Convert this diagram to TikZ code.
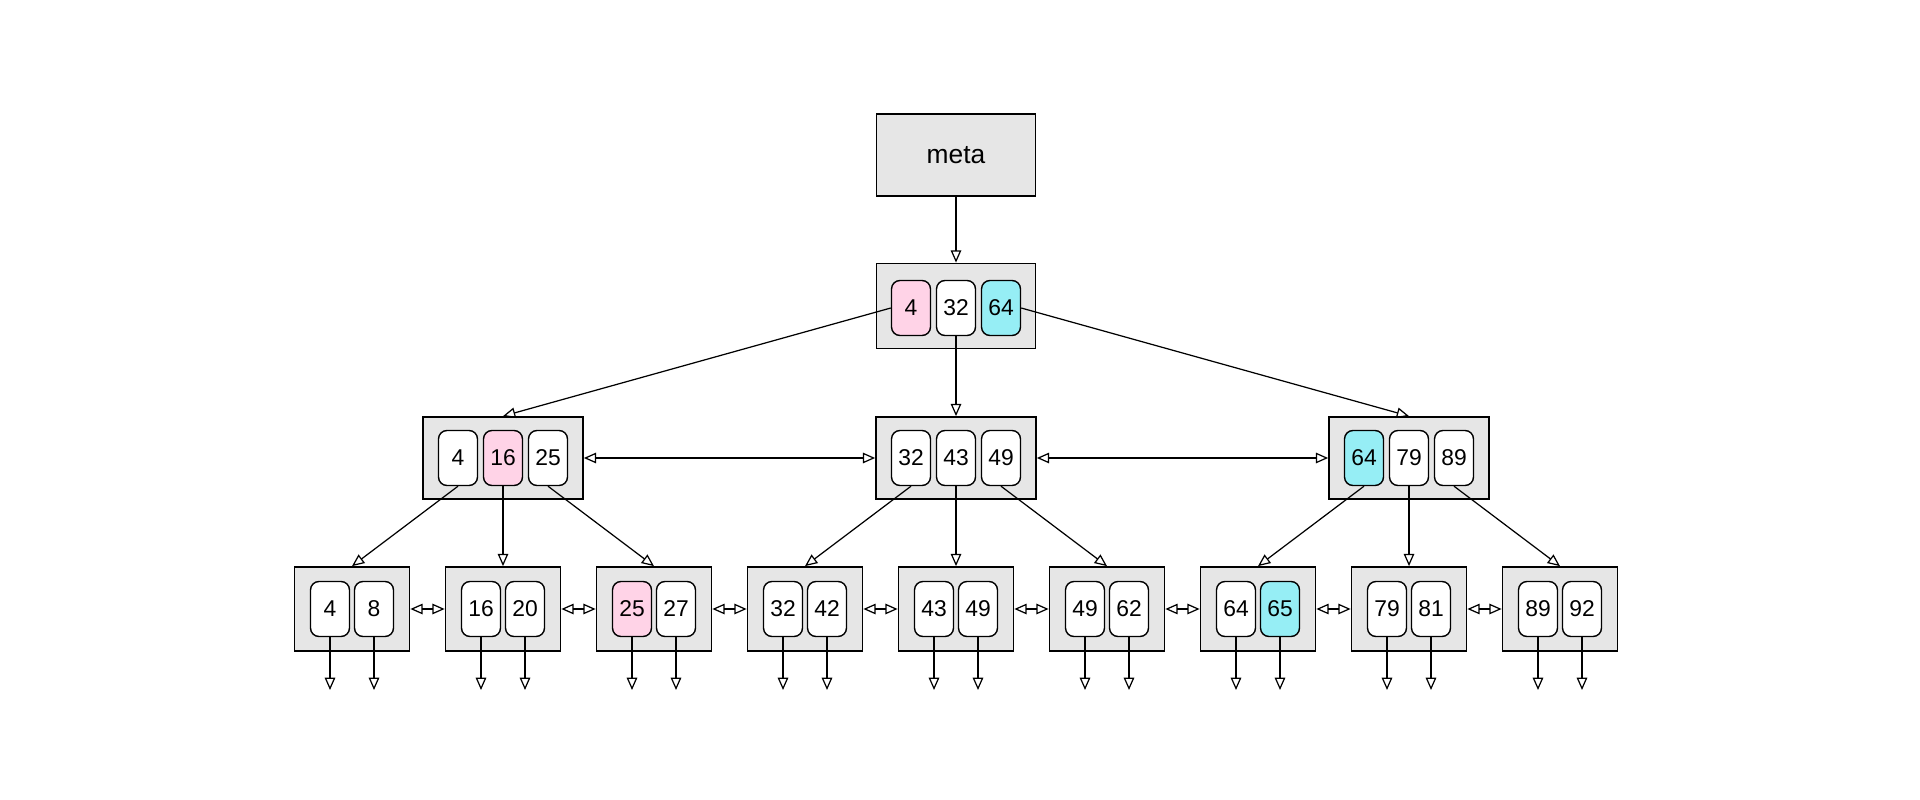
\documentclass[tikz,border=0pt]{standalone}
\usepackage{fontspec}
\setmainfont{Liberation Sans}
\usetikzlibrary{arrows.meta}
\definecolor{boxgray}{HTML}{E6E6E6}
\definecolor{keypink}{HTML}{FFD3E7}
\definecolor{keycyan}{HTML}{96EEF5}
\begin{document}
\begin{tikzpicture}[x=0.02cm, y=0.02cm]
            \tikzstyle{page}=[draw, line width=1pt, fill=boxgray, inner sep=0pt]
            \tikzstyle{inner}=[page, minimum width=3.2cm, minimum height=1.64cm]
            \tikzstyle{leaf}=[page, minimum width=2.3cm, minimum height=1.68cm]
            \tikzstyle{key}=[draw, line width=0.8pt, fill=white, rounded corners=0.17cm, inner sep=0pt,
                             minimum width=0.78cm, minimum height=1.1cm, font=\fontsize{13}{15}\selectfont]
            \tikzstyle{link}=[line width=0.7pt, -{Triangle[open,length=7pt,width=6pt]}]
            \tikzstyle{twin}=[line width=0.7pt, {Triangle[open,length=7pt,width=6pt]}-{Triangle[open,length=7pt,width=6pt]}]
            \useasboundingbox (0,0) rectangle (1920,-800);
            % meta and root
            \node [page, minimum width=3.18cm, minimum height=1.64cm, font=\fontsize{15}{17}\selectfont] (meta) at (956,-155) {meta};
            \node [page, minimum width=3.18cm, minimum height=1.7cm] (root) at (956,-306) {};
            \node [key, fill=keypink] (root4) at (911,-308) {4};
            \node [key] (root32) at (956,-308) {32};
            \node [key, fill=keycyan] (root64) at (1001,-308) {64};
            % inner pages
            \node [inner] (inL) at (503,-458) {};
            \node [key] (inL4) at (458,-458) {4};
            \node [key, fill=keypink] (inL16) at (503,-458) {16};
            \node [key] (inL25) at (548,-458) {25};
            \node [inner] (inM) at (956,-458) {};
            \node [key] (inM32) at (911,-458) {32};
            \node [key] (inM43) at (956,-458) {43};
            \node [key] (inM49) at (1001,-458) {49};
            \node [inner] (inR) at (1409,-458) {};
            \node [key, fill=keycyan] (inR64) at (1364,-458) {64};
            \node [key] (inR79) at (1409,-458) {79};
            \node [key] (inR89) at (1454,-458) {89};
            % leaf pages
            \node [leaf] (lf1) at (352,-609) {};
            \node [key] (lf1a) at (330,-609) {4};
            \node [key] (lf1b) at (374,-609) {8};
            \node [leaf] (lf2) at (503,-609) {};
            \node [key] (lf2a) at (481,-609) {16};
            \node [key] (lf2b) at (525,-609) {20};
            \node [leaf] (lf3) at (654,-609) {};
            \node [key, fill=keypink] (lf3a) at (632,-609) {25};
            \node [key] (lf3b) at (676,-609) {27};
            \node [leaf] (lf4) at (805,-609) {};
            \node [key] (lf4a) at (783,-609) {32};
            \node [key] (lf4b) at (827,-609) {42};
            \node [leaf] (lf5) at (956,-609) {};
            \node [key] (lf5a) at (934,-609) {43};
            \node [key] (lf5b) at (978,-609) {49};
            \node [leaf] (lf6) at (1107,-609) {};
            \node [key] (lf6a) at (1085,-609) {49};
            \node [key] (lf6b) at (1129,-609) {62};
            \node [leaf] (lf7) at (1258,-609) {};
            \node [key] (lf7a) at (1236,-609) {64};
            \node [key, fill=keycyan] (lf7b) at (1280,-609) {65};
            \node [leaf] (lf8) at (1409,-609) {};
            \node [key] (lf8a) at (1387,-609) {79};
            \node [key] (lf8b) at (1431,-609) {81};
            \node [leaf] (lf9) at (1560,-609) {};
            \node [key] (lf9a) at (1538,-609) {89};
            \node [key] (lf9b) at (1582,-609) {92};
            % tree links
            \draw [link] (meta) -- (root);
            \draw [link] (root4.west) -- (inL.north);
            \draw [link] (root32.south) -- (inM.north);
            \draw [link] (root64.east) -- (inR.north);
            \draw [twin] (inL.east) -- (inM.west);
            \draw [twin] (inM.east) -- (inR.west);
            \draw [link] (inL4.south) -- (lf1.north);
            \draw [link] (inL16.south) -- (lf2.north);
            \draw [link] (inL25.south) -- (lf3.north);
            \draw [link] (inM32.south) -- (lf4.north);
            \draw [link] (inM43.south) -- (lf5.north);
            \draw [link] (inM49.south) -- (lf6.north);
            \draw [link] (inR64.south) -- (lf7.north);
            \draw [link] (inR79.south) -- (lf8.north);
            \draw [link] (inR89.south) -- (lf9.north);
            % sibling links
            \draw [twin] (lf1.east) -- (lf2.west);
            \draw [twin] (lf2.east) -- (lf3.west);
            \draw [twin] (lf3.east) -- (lf4.west);
            \draw [twin] (lf4.east) -- (lf5.west);
            \draw [twin] (lf5.east) -- (lf6.west);
            \draw [twin] (lf6.east) -- (lf7.west);
            \draw [twin] (lf7.east) -- (lf8.west);
            \draw [twin] (lf8.east) -- (lf9.west);
            % record pointers
            \coordinate (d1a) at (330,-690); \coordinate (d1b) at (374,-690);
            \coordinate (d2a) at (481,-690); \coordinate (d2b) at (525,-690);
            \coordinate (d3a) at (632,-690); \coordinate (d3b) at (676,-690);
            \coordinate (d4a) at (783,-690); \coordinate (d4b) at (827,-690);
            \coordinate (d5a) at (934,-690); \coordinate (d5b) at (978,-690);
            \coordinate (d6a) at (1085,-690); \coordinate (d6b) at (1129,-690);
            \coordinate (d7a) at (1236,-690); \coordinate (d7b) at (1280,-690);
            \coordinate (d8a) at (1387,-690); \coordinate (d8b) at (1431,-690);
            \coordinate (d9a) at (1538,-690); \coordinate (d9b) at (1582,-690);
            \draw [link] (lf1a.south) -- (d1a);  \draw [link] (lf1b.south) -- (d1b);
            \draw [link] (lf2a.south) -- (d2a);  \draw [link] (lf2b.south) -- (d2b);
            \draw [link] (lf3a.south) -- (d3a);  \draw [link] (lf3b.south) -- (d3b);
            \draw [link] (lf4a.south) -- (d4a);  \draw [link] (lf4b.south) -- (d4b);
            \draw [link] (lf5a.south) -- (d5a);  \draw [link] (lf5b.south) -- (d5b);
            \draw [link] (lf6a.south) -- (d6a);  \draw [link] (lf6b.south) -- (d6b);
            \draw [link] (lf7a.south) -- (d7a);  \draw [link] (lf7b.south) -- (d7b);
            \draw [link] (lf8a.south) -- (d8a);  \draw [link] (lf8b.south) -- (d8b);
            \draw [link] (lf9a.south) -- (d9a);  \draw [link] (lf9b.south) -- (d9b);
        \end{tikzpicture}
\end{document}
